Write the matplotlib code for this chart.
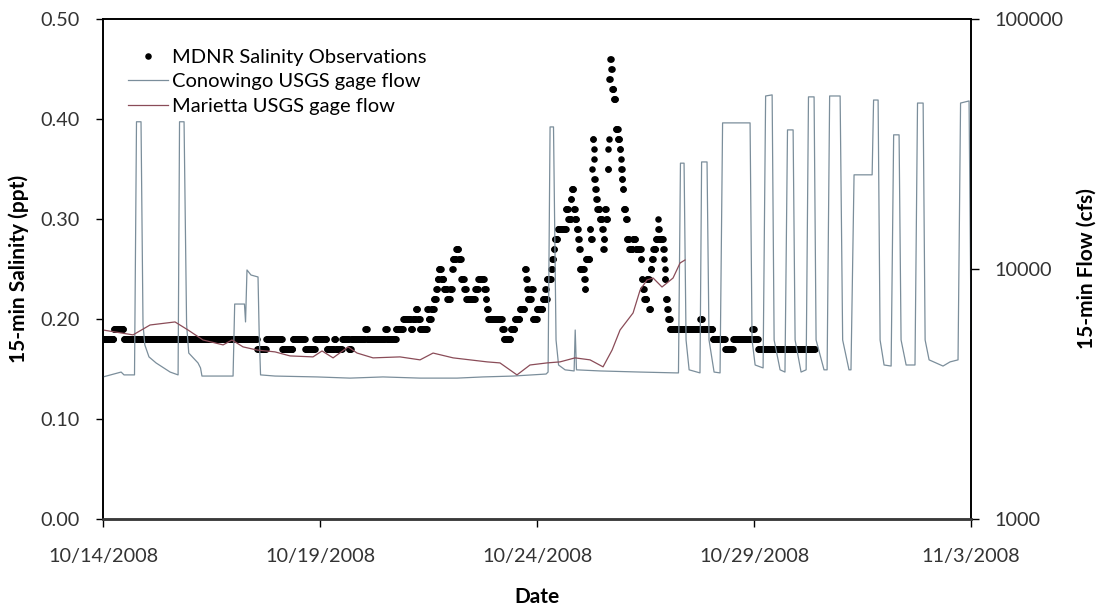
import numpy as np
import pandas as pd
import matplotlib
matplotlib.use('Agg')
import matplotlib.pyplot as plt
from matplotlib.lines import Line2D
from matplotlib.ticker import FuncFormatter, NullLocator

plt.rcParams['font.family'] = ['Lato', 'DejaVu Sans']

start = pd.Timestamp('2008-10-14 00:00')
end = pd.Timestamp('2008-11-03 00:00')

# MDNR salinity, run-length coded: level (ppt) and number of consecutive 15-min readings
sal_ppt = [0.18, 0.19, 0.18, 0.17, 0.18, 0.17, 0.18, 0.17, 0.18, 0.17,
           0.18, 0.17, 0.18, 0.17, 0.18, 0.19, 0.18, 0.19, 0.18, 0.19,
           0.20, 0.19, 0.20, 0.21, 0.20, 0.19, 0.21, 0.20, 0.21, 0.22,
           0.23, 0.24, 0.25, 0.24, 0.23, 0.22, 0.23, 0.25, 0.26, 0.27,
           0.26, 0.24, 0.23, 0.22, 0.23, 0.24, 0.23, 0.22, 0.21, 0.20,
           0.19, 0.18, 0.19, 0.20, 0.21, 0.25, 0.24, 0.23, 0.22, 0.23,
           0.20, 0.21, 0.22, 0.23, 0.22, 0.24, 0.25, 0.26, 0.27, 0.28,
           0.29, 0.31, 0.30, 0.32, 0.33, 0.31, 0.30, 0.29, 0.28, 0.27,
           0.25, 0.24, 0.23, 0.26, 0.29, 0.28, 0.35, 0.38, 0.37, 0.36,
           0.34, 0.33, 0.32, 0.31, 0.30, 0.29, 0.27, 0.28, 0.31, 0.30,
           0.35, 0.37, 0.38, 0.44, 0.46, 0.45, 0.43, 0.42, 0.39, 0.38,
           0.37, 0.36, 0.35, 0.34, 0.33, 0.31, 0.30, 0.28, 0.27, 0.28,
           0.27, 0.26, 0.24, 0.23, 0.22, 0.24, 0.21, 0.25, 0.26, 0.27,
           0.28, 0.30, 0.29, 0.28, 0.27, 0.26, 0.25, 0.24, 0.22, 0.21,
           0.20, 0.19, 0.20, 0.19, 0.18, 0.17, 0.18, 0.19, 0.18, 0.17]
sal_n = [24, 22, 295, 20, 35, 24, 27, 22, 26, 16,
         4, 14, 15, 5, 31, 4, 40, 4, 20, 16,
         17, 4, 7, 4, 5, 16, 3, 6, 6, 5,
         3, 3, 5, 6, 7, 7, 4, 2, 7, 6,
         5, 7, 4, 20, 7, 13, 4, 2, 3, 31,
         4, 15, 9, 11, 11, 3, 2, 2, 7, 4,
         9, 13, 5, 2, 2, 9, 3, 3, 2, 7,
         18, 5, 6, 2, 4, 3, 4, 3, 2, 2,
         9, 2, 2, 9, 2, 3, 1, 2, 1, 1,
         2, 2, 2, 6, 5, 2, 2, 2, 3, 3,
         2, 1, 1, 2, 2, 2, 4, 4, 5, 4,
         2, 1, 2, 2, 2, 4, 3, 5, 8, 6,
         12, 2, 2, 3, 6, 5, 3, 3, 3, 6,
         4, 1, 2, 9, 2, 1, 1, 2, 3, 2,
         4, 67, 4, 24, 27, 18, 42, 4, 9, 126]

# Conowingo gage flow (cfs), hours after 10/14 00:00
cono_hr = [0, 10.0, 11.6, 17.4, 18.5, 21.0, 22.1, 23.1, 25.4, 29.3,
           37.1, 41.5, 42.3, 44.8, 46.2, 47.4, 52.5, 53.9, 54.7, 71.9,
           72.8, 78.2, 78.8, 79.6, 81.8, 85.7, 86.3, 87.1, 95.1, 118.3,
           136.6, 154.8, 175.3, 195.8, 210.1, 226.7, 245.0, 246.1, 247.2, 249.1,
           250.5, 251.9, 255.5, 260.5, 261.1, 261.8, 274.8, 297.0, 316.9, 318.2,
           319.3, 321.3, 322.4, 324.1, 330.1, 331.0, 334.0, 335.1, 337.9, 341.2,
           342.6, 357.8, 358.9, 360.6, 365.0, 366.4, 370.0, 371.1, 374.4, 377.1,
           378.5, 381.6, 382.7, 386.0, 388.8, 390.1, 393.2, 394.3, 398.7, 400.4,
           401.8, 407.6, 409.0, 412.5, 413.6, 415.3, 425.3, 426.1, 428.6, 429.7,
           431.9, 435.8, 437.2, 440.2, 441.3, 444.1, 449.0, 450.4, 453.5, 454.6,
           456.8, 464.5, 468.4, 472.8, 474.2, 478.9, 480.0]
cono_cfs = [3700, 3870, 3770, 3770, 38800, 38800, 6000, 4970, 4450, 4210,
            3870, 3770, 38800, 38800, 6000, 4610, 4210, 4020, 3730, 3730,
            7240, 7240, 6140, 9910, 9460, 9290, 5700, 3770, 3730, 3700,
            3660, 3700, 3660, 3660, 3700, 3730, 3800, 3870, 37000, 37000,
            5200, 4130, 3950, 3910, 5700, 3950, 3910, 3870, 3840, 3840,
            26500, 26500, 5200, 3950, 3840, 26800, 26800, 5200, 3870, 3840,
            38400, 38400, 5200, 4130, 4020, 49200, 49700, 5200, 3950, 3870,
            36000, 36000, 5200, 3870, 3950, 48800, 48800, 5200, 3950, 3950,
            49200, 49200, 5200, 3950, 3950, 23800, 23800, 47400, 47400, 5200,
            4130, 4090, 34400, 34400, 5200, 4130, 4130, 46100, 46100, 5200,
            4330, 4090, 4250, 4330, 46100, 47000, 5700]

# Marietta gage flow (cfs), hours after 10/14 00:00
mari_hr = [0, 16.6, 26.0, 39.8, 47.0, 55.3, 66.4, 71.3, 77.4, 85.2,
           95.1, 103.4, 116.1, 121.1, 127.2, 135.5, 140.5, 149.3, 164.2, 175.3,
           182.5, 193.6, 212.4, 219.5, 228.9, 236.1, 245.5, 252.7, 261.0, 269.3,
           276.5, 281.5, 285.9, 293.1, 297.0, 300.8, 304.2, 309.1, 315.2, 319.1,
           321.8]
mari_cfs = [5700, 5450, 5970, 6140, 5700, 5200, 4970, 5200, 4880, 4740,
            4660, 4490, 4450, 4700, 4410, 4880, 4610, 4410, 4450, 4330,
            4610, 4410, 4250, 4210, 3770, 4130, 4210, 4250, 4410, 4330,
            4060, 4740, 5700, 6670, 8240, 9040, 9200, 8470, 9200, 10570,
            10860]

date_ticks = ['2008-10-14', '2008-10-19', '2008-10-24', '2008-10-29', '2008-11-03']

sal_vals = np.repeat(sal_ppt, sal_n)
sal_time = start + pd.to_timedelta(np.arange(len(sal_vals)) * 15, unit='min')
cono_time = start + pd.to_timedelta(cono_hr, unit='h')
mari_time = start + pd.to_timedelta(mari_hr, unit='h')

cono_col = '#7b8e9b'
mari_col = '#8a4c58'

fig = plt.figure(figsize=(11.08, 6.08), dpi=100)
ax1 = fig.add_axes([0.0930, 0.1464, 0.7834, 0.8224])
ax2 = ax1.twinx()

ax1.plot(sal_time, sal_vals, 'o', ms=4.7, color='black', mec='none')
ax2.plot(cono_time, cono_cfs, color=cono_col, lw=0.9)
ax2.plot(mari_time, mari_cfs, color=mari_col, lw=0.9)

ax1.set_xlim(start, end)
ax1.set_ylim(0, 0.5)
ax1.set_yticks(np.arange(0, 0.51, 0.1))
ax1.yaxis.set_major_formatter(FuncFormatter(lambda v, p: f'{v:.2f}'))
ax1.set_xticks(pd.to_datetime(date_ticks))
ax1.xaxis.set_major_formatter(FuncFormatter(
    lambda v, p: (lambda d: f'{d.month}/{d.day}/{d.year}')(matplotlib.dates.num2date(v))))

ax2.set_yscale('log')
ax2.set_ylim(1000, 100000)
ax2.set_yticks([1000, 10000, 100000])
ax2.yaxis.set_minor_locator(NullLocator())
ax2.yaxis.set_major_formatter(FuncFormatter(lambda v, p: f'{int(round(v))}'))

tick_col = '#333333'
ax1.tick_params(axis='y', direction='out', length=5, width=1, labelsize=14.3,
                labelcolor=tick_col, pad=12)
ax1.tick_params(axis='x', direction='out', length=6, width=1, labelsize=14.3,
                labelcolor=tick_col, pad=15)
ax2.tick_params(axis='y', direction='out', length=6, width=1, labelsize=14.3,
                labelcolor=tick_col, pad=11)

for ax in (ax1, ax2):
    for s in ax.spines.values():
        s.set_linewidth(1.2)
        s.set_color('black')
    ax.spines['bottom'].set_linewidth(1.8)
    ax.spines['bottom'].set_color('#3a3a3a')

ax1.set_ylabel('15-min Salinity (ppt)', fontsize=15, fontweight='bold', labelpad=8)
ax1.set_xlabel('Date', fontsize=15, fontweight='bold', labelpad=16)
ax2.set_ylabel('15-min Flow (cfs)', fontsize=15, fontweight='bold', labelpad=9)

handles = [
    Line2D([], [], marker='o', ls='none', ms=4.7, color='black', mec='none'),
    Line2D([], [], color=cono_col, lw=0.9),
    Line2D([], [], color=mari_col, lw=0.9),
]
labels = ['MDNR Salinity Observations', 'Conowingo USGS gage flow',
          'Marietta USGS gage flow']
ax2.legend(handles, labels, loc='upper left', bbox_to_anchor=(0.029, 0.941),
           frameon=False, fontsize=14.5, handlelength=2.0, handletextpad=0.15,
           labelspacing=0.37, borderaxespad=0, borderpad=0)

fig.savefig('out.png', dpi=100)
